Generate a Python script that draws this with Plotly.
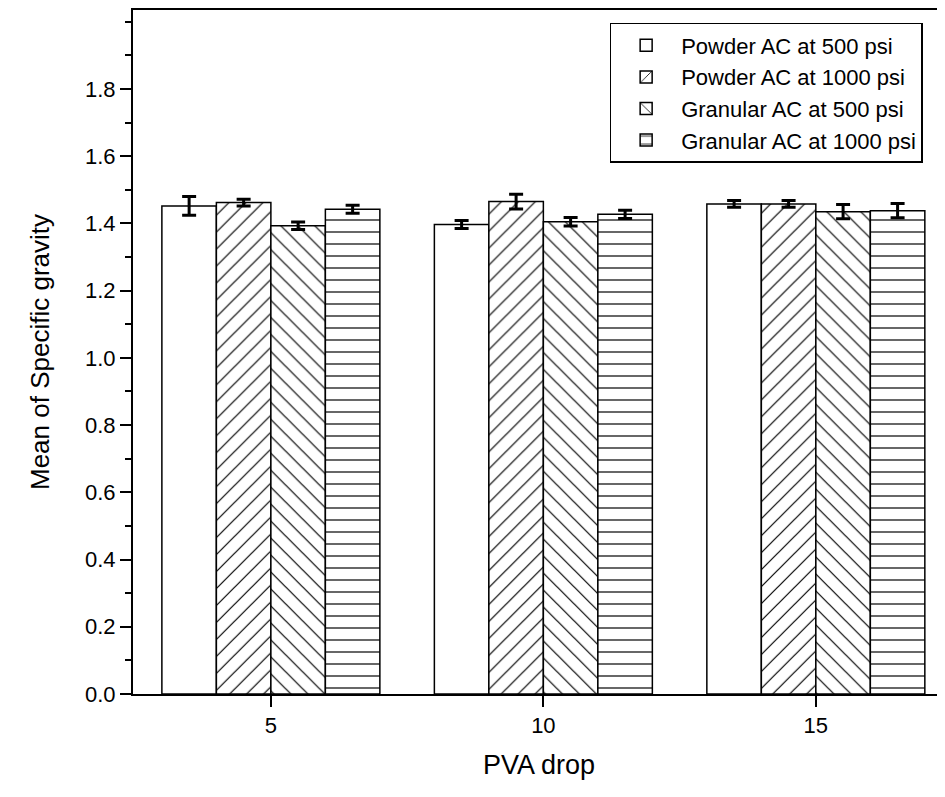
import plotly.graph_objects as go

pva_drop = [5, 10, 15]
series_names = ["Powder AC at 500 psi", "Powder AC at 1000 psi",
                "Granular AC at 500 psi", "Granular AC at 1000 psi"]
powder_500 = [1.452, 1.397, 1.458]
powder_500_err = [0.028, 0.012, 0.010]
powder_1000 = [1.462, 1.465, 1.458]
powder_1000_err = [0.010, 0.022, 0.010]
granular_500 = [1.393, 1.405, 1.435]
granular_500_err = [0.011, 0.013, 0.021]
granular_1000 = [1.442, 1.427, 1.438]
granular_1000_err = [0.012, 0.012, 0.021]

values = [powder_500, powder_1000, granular_500, granular_1000]
errors = [powder_500_err, powder_1000_err, granular_500_err, granular_1000_err]
patterns = ["", "/", "\\", "-"]

y_ticks = [0.0, 0.2, 0.4, 0.6, 0.8, 1.0, 1.2, 1.4, 1.6, 1.8]

fig = go.Figure()
for i, (name, vals, errs, pat) in enumerate(zip(series_names, values, errors, patterns)):
    fig.add_trace(go.Bar(
        x=pva_drop, y=vals, name=name, legendgroup=f"g{i}",
        marker=dict(color="white",
                    line=dict(color="black", width=1.5),
                    pattern=dict(shape=pat, fgcolor="black", bgcolor="white",
                                 size=12, solidity=0.1, fillmode="replace")),
        error_y=dict(type="data", array=errs, visible=True,
                     color="black", thickness=3, width=7),
    ))

# the page body has an 8px margin, so the figure is 8px smaller and margins compensate
axis_font = dict(family="Liberation Sans, Arial, sans-serif", size=22, color="black")
fig.update_layout(
    width=937, height=789,
    paper_bgcolor="white", plot_bgcolor="white",
    margin=dict(l=125, r=0, t=2, b=103),
    barmode="group", bargap=0.2, bargroupgap=0,
    font=dict(family="Liberation Sans, Arial, sans-serif", color="black"),
    showlegend=True,
    legend=dict(x=0.587, y=0.981, xanchor="left", yanchor="top",
                bgcolor="white", bordercolor="black", borderwidth=1.5,
                font=dict(size=22, color="black"),
                tracegroupgap=0, itemwidth=60,
                traceorder="normal"),
    xaxis=dict(range=[2.47, 17.37], tickmode="array", tickvals=pva_drop,
               ticktext=[str(v) for v in pva_drop],
               ticks="outside", ticklen=11, tickwidth=1.5, tickcolor="black",
               showline=True, linecolor="black", linewidth=2, mirror=True,
               showgrid=False, zeroline=False, tickfont=axis_font,
               title=dict(text="PVA drop", font=dict(size=27, color="black"), standoff=18)),
    yaxis=dict(range=[0, 2.035], tickmode="array", tickvals=y_ticks,
               ticktext=[f"{v:.1f}" for v in y_ticks],
               ticks="outside", ticklen=11, tickwidth=1.5, tickcolor="black",
               minor=dict(ticks="outside", ticklen=6, dtick=0.1, tick0=0,
                          tickcolor="black", tickwidth=1.5, showgrid=False),
               showline=True, linecolor="black", linewidth=2, mirror=False,
               showgrid=False, zeroline=False, tickfont=axis_font,
               title=dict(text="Mean of Specific gravity", font=dict(size=26, color="black"), standoff=28)),
)

fig.write_html("out.html")
